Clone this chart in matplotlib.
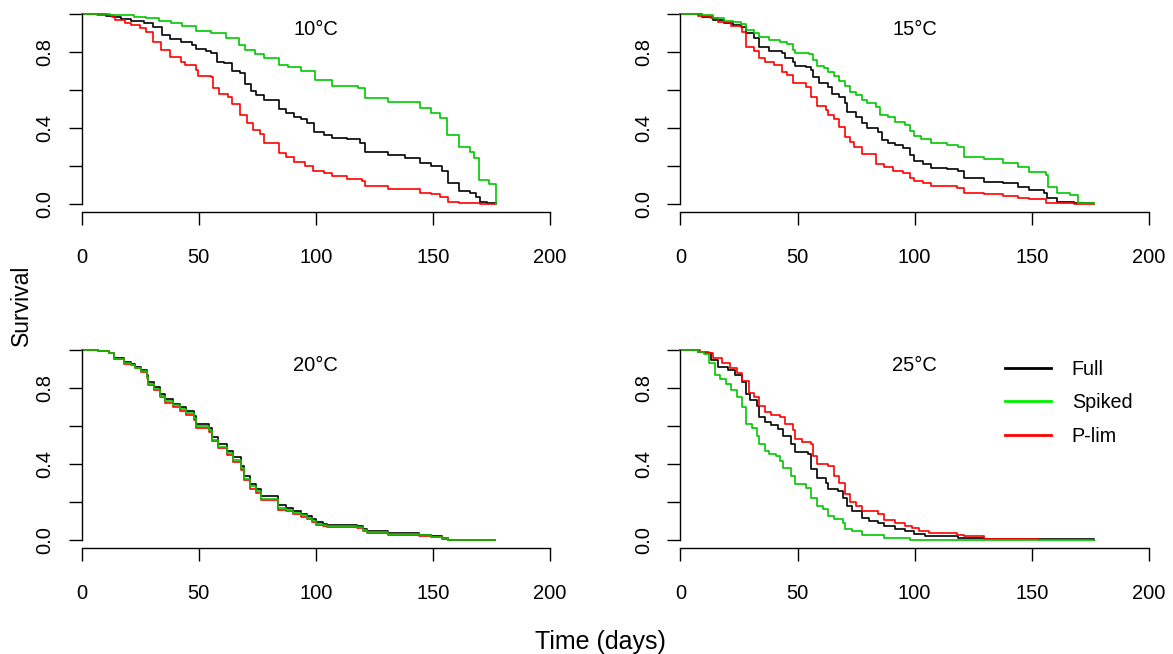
import matplotlib
matplotlib.use('Agg')
import matplotlib.pyplot as plt
from matplotlib.lines import Line2D

plt.rcParams['font.family'] = ['Liberation Sans', 'DejaVu Sans']

# ---- data (days, survival) ----
panel_titles = ['10°C', '15°C', '20°C', '25°C']
series_names = ['Full', 'Spiked', 'P-lim']

# 10°C
t10_full = [0, 10.4, 13.6, 16.8, 20.9, 26.5, 30.5, 34.5, 37.7, 42.5, 47.3, 48.9, 52.9, 55.3, 57.7, 60.9, 64.2, 67.4,
            69.8, 72.2, 74.6, 77.8, 84.2, 87.4, 90.6, 93.8, 96.2, 99.4, 103.4, 106.7, 113.1, 118.7, 121.1, 130.7,
            137.9, 144.4, 149.2, 154.0, 156.4, 161.2, 166.0, 168.4, 170.0, 173.2, 176.8]
s10_full = [1.0, 0.993, 0.984, 0.974, 0.965, 0.953, 0.935, 0.89, 0.868, 0.856, 0.839, 0.816, 0.809, 0.795, 0.75,
            0.742, 0.704, 0.69, 0.633, 0.598, 0.575, 0.549, 0.502, 0.479, 0.461, 0.449, 0.426, 0.382, 0.365, 0.351,
            0.342, 0.321, 0.277, 0.26, 0.242, 0.216, 0.204, 0.175, 0.11, 0.072, 0.058, 0.04, 0.014, 0.005, 0.005]
t10_spiked = [0, 12.0, 22.5, 27.3, 32.9, 38.0, 43.0, 48.9, 55.0, 61.8, 67.0, 69.8, 74.0, 77.8, 84.2, 88.0, 93.8,
              99.5, 106.7, 117.9, 121.1, 130.7, 144.4, 149.2, 153.2, 156.1, 160.9, 166.0, 167.3, 169.5, 173.7, 176.8]
s10_spiked = [1.0, 0.994, 0.988, 0.979, 0.965, 0.955, 0.94, 0.912, 0.90, 0.877, 0.84, 0.81, 0.79, 0.77, 0.733,
              0.72, 0.70, 0.654, 0.62, 0.61, 0.558, 0.54, 0.505, 0.48, 0.453, 0.365, 0.30, 0.277, 0.242, 0.128,
              0.105, 0.0]
t10_plim = [0, 6.4, 12.8, 14.4, 18.4, 20.9, 24.9, 27.3, 30.5, 33.7, 37.7, 42.5, 44.1, 48.9, 49.7, 55.3, 56.1, 58.5,
            62.6, 64.2, 67.4, 70.6, 73.0, 76.2, 77.8, 84.2, 87.4, 90.6, 95.4, 98.6, 103.4, 106.7, 113.1, 119.5,
            121.1, 130.7, 144.4, 149.2, 153.2, 156.4, 161.2, 170.0, 176.8]
s10_plim = [1.0, 0.995, 0.988, 0.97, 0.956, 0.944, 0.93, 0.909, 0.856, 0.812, 0.774, 0.75, 0.733, 0.707, 0.675,
            0.668, 0.61, 0.58, 0.567, 0.526, 0.47, 0.426, 0.391, 0.37, 0.325, 0.268, 0.247, 0.225, 0.204, 0.175,
            0.163, 0.151, 0.132, 0.125, 0.096, 0.079, 0.061, 0.053, 0.04, 0.014, 0.009, 0.002, 0.0]

# 15°C
t15_full = [0, 9.1, 13.8, 18.6, 22.6, 25.7, 28.1, 31.3, 33.7, 37.7, 43.2, 44.8, 48.0, 48.8, 53.5, 55.9, 56.7, 59.1,
            63.1, 64.7, 67.9, 70.2, 71.0, 75.0, 77.4, 79.8, 84.5, 86.1, 88.5, 91.7, 94.9, 98.0, 99.6, 103.6, 106.8,
            113.9, 118.7, 121.1, 129.8, 137.8, 144.1, 148.9, 155.2, 156.5, 160.8, 167.9, 176.7]
s15_full = [1.0, 0.988, 0.97, 0.956, 0.944, 0.935, 0.9, 0.874, 0.83, 0.807, 0.795, 0.768, 0.75, 0.73, 0.725, 0.707,
            0.672, 0.637, 0.619, 0.579, 0.563, 0.532, 0.484, 0.458, 0.426, 0.4, 0.382, 0.339, 0.325, 0.312, 0.295,
            0.26, 0.228, 0.211, 0.193, 0.184, 0.175, 0.137, 0.119, 0.111, 0.093, 0.075, 0.061, 0.032, 0.014, 0.005,
            0.0]
t15_spiked = [0, 9.1, 13.8, 18.6, 22.6, 25.7, 28.1, 31.3, 33.7, 37.7, 42.4, 45.6, 48.0, 48.8, 55.1, 56.7, 58.3,
              61.5, 63.1, 65.5, 67.9, 70.2, 72.6, 75.0, 77.4, 79.8, 83.7, 85.3, 88.5, 91.7, 95.7, 98.0, 99.6, 102.8,
              106.8, 113.9, 118.7, 121.1, 129.8, 137.8, 144.1, 148.9, 156.0, 156.8, 160.8, 166.4, 169.9, 176.7]
s15_spiked = [1.0, 0.995, 0.979, 0.967, 0.958, 0.949, 0.918, 0.904, 0.882, 0.865, 0.853, 0.842, 0.812, 0.798,
              0.789, 0.76, 0.73, 0.716, 0.698, 0.675, 0.649, 0.62, 0.593, 0.575, 0.549, 0.535, 0.514, 0.47, 0.458,
              0.435, 0.418, 0.388, 0.36, 0.342, 0.321, 0.312, 0.304, 0.251, 0.239, 0.216, 0.198, 0.172, 0.154,
              0.093, 0.061, 0.049, 0.009, 0.002]
t15_plim = [0, 7.5, 13.0, 16.2, 21.8, 26.5, 28.1, 31.3, 33.7, 36.1, 40.0, 43.2, 45.6, 48.0, 53.5, 55.9, 58.3, 62.3,
            63.1, 65.5, 67.9, 70.2, 72.6, 74.2, 77.4, 83.7, 86.9, 90.9, 94.9, 98.0, 99.6, 103.6, 106.8, 117.9, 121.1,
            129.8, 137.8, 144.1, 148.9, 156.0, 167.9, 176.7]
s15_plim = [1.0, 0.993, 0.979, 0.961, 0.939, 0.909, 0.83, 0.809, 0.768, 0.75, 0.733, 0.698, 0.681, 0.637, 0.619,
            0.567, 0.518, 0.496, 0.47, 0.447, 0.409, 0.356, 0.33, 0.304, 0.263, 0.211, 0.198, 0.175, 0.163, 0.14,
            0.125, 0.114, 0.096, 0.088, 0.061, 0.054, 0.044, 0.035, 0.026, 0.009, 0.0, 0.0]

# 20°C (the three curves share event times)
t20 = [0, 6.8, 11.6, 14.0, 18.0, 21.2, 22.8, 25.2, 27.7, 28.5, 30.9, 33.3, 35.7, 38.9, 42.1, 44.5, 47.8, 48.6, 54.2,
       55.8, 58.2, 62.2, 64.6, 67.9, 69.5, 71.9, 74.3, 76.7, 83.9, 87.2, 90.4, 93.6, 96.0, 98.4, 100.0, 103.2, 104.8,
       117.7, 120.1, 121.7, 130.6, 144.2, 149.1, 153.9, 156.3, 176.4]
s20_full = [1.0, 0.995, 0.984, 0.958, 0.936, 0.926, 0.913, 0.896, 0.869, 0.834, 0.807, 0.772, 0.742, 0.719, 0.701,
            0.678, 0.654, 0.613, 0.59, 0.542, 0.507, 0.472, 0.436, 0.392, 0.339, 0.295, 0.272, 0.233, 0.184, 0.171,
            0.154, 0.14, 0.127, 0.11, 0.095, 0.088, 0.081, 0.074, 0.06, 0.048, 0.037, 0.03, 0.021, 0.012, 0.004, 0.0]
s20_spiked = [1.0, 0.995, 0.984, 0.956, 0.932, 0.922, 0.908, 0.89, 0.862, 0.822, 0.797, 0.76, 0.732, 0.71, 0.69,
              0.668, 0.642, 0.6, 0.578, 0.53, 0.493, 0.458, 0.422, 0.38, 0.325, 0.285, 0.26, 0.218, 0.168, 0.159,
              0.145, 0.131, 0.12, 0.103, 0.088, 0.081, 0.075, 0.068, 0.053, 0.042, 0.032, 0.027, 0.017, 0.01, 0.002,
              0.0]
s20_plim = [1.0, 0.995, 0.984, 0.955, 0.93, 0.92, 0.905, 0.885, 0.855, 0.815, 0.79, 0.752, 0.725, 0.702, 0.682,
            0.658, 0.632, 0.592, 0.57, 0.52, 0.485, 0.45, 0.412, 0.37, 0.315, 0.272, 0.25, 0.21, 0.162, 0.152, 0.138,
            0.125, 0.114, 0.098, 0.083, 0.077, 0.071, 0.064, 0.05, 0.04, 0.03, 0.025, 0.016, 0.009, 0.002, 0.0]

# 25°C
t25_full = [0, 7.5, 10.6, 13.0, 16.2, 20.2, 23.4, 26.5, 28.1, 29.7, 32.9, 33.7, 36.1, 38.5, 41.6, 44.0, 47.2, 48.8,
            54.3, 55.9, 58.3, 62.3, 63.1, 67.1, 69.4, 71.0, 73.4, 77.4, 80.6, 84.5, 86.9, 91.7, 95.7, 99.6, 104.4,
            118.7, 129.8, 176.7]
s25_full = [1.0, 0.993, 0.984, 0.949, 0.913, 0.896, 0.869, 0.834, 0.772, 0.737, 0.707, 0.648, 0.622, 0.608, 0.587,
            0.548, 0.507, 0.466, 0.454, 0.375, 0.33, 0.304, 0.272, 0.26, 0.224, 0.18, 0.154, 0.118, 0.104, 0.092,
            0.074, 0.06, 0.048, 0.035, 0.025, 0.012, 0.005, 0.0]
t25_spiked = [0, 7.5, 9.9, 12.2, 14.6, 17.0, 19.4, 21.8, 24.2, 26.5, 28.1, 30.5, 32.9, 33.7, 36.1, 37.7, 40.8, 42.4,
              44.0, 47.2, 48.8, 53.5, 55.9, 58.3, 60.7, 63.1, 65.5, 69.4, 70.2, 73.4, 77.4, 86.9, 98.0, 176.7]
s25_spiked = [1.0, 0.993, 0.979, 0.931, 0.869, 0.848, 0.825, 0.79, 0.754, 0.701, 0.613, 0.59, 0.551, 0.507, 0.472,
              0.454, 0.442, 0.419, 0.378, 0.339, 0.295, 0.277, 0.224, 0.18, 0.163, 0.127, 0.113, 0.092, 0.06, 0.048,
              0.028, 0.011, 0.0, 0.0]
t25_plim = [0, 8.3, 12.2, 13.8, 17.8, 21.0, 24.2, 26.5, 29.3, 31.3, 33.7, 36.1, 38.5, 42.4, 44.8, 48.0, 48.8, 52.0,
            55.9, 56.7, 58.3, 63.1, 65.5, 67.9, 70.2, 72.6, 75.0, 77.4, 84.5, 86.9, 91.7, 95.7, 98.8, 102.0, 106.0,
            117.9, 121.1, 129.8, 152.9]
s25_plim = [1.0, 0.993, 0.984, 0.961, 0.931, 0.905, 0.878, 0.837, 0.777, 0.754, 0.707, 0.675, 0.661, 0.648, 0.613,
            0.578, 0.534, 0.519, 0.507, 0.445, 0.401, 0.392, 0.339, 0.304, 0.242, 0.201, 0.18, 0.154, 0.14, 0.106,
            0.092, 0.074, 0.065, 0.051, 0.039, 0.03, 0.021, 0.008, 0.0]

panels = [
    [(t10_full, s10_full), (t10_spiked, s10_spiked), (t10_plim, s10_plim)],
    [(t15_full, s15_full), (t15_spiked, s15_spiked), (t15_plim, s15_plim)],
    [(t20, s20_full), (t20, s20_spiked), (t20, s20_plim)],
    [(t25_full, s25_full), (t25_spiked, s25_spiked), (t25_plim, s25_plim)],
]

colors = ['black', '#00C800', 'red']
legend_colors = ['black', '#00F000', 'red']
draw_order = [0, 2, 1]

W, H = 1173, 654
fig = plt.figure(figsize=(W / 100, H / 100), dpi=100)

# pixel boxes: (left, top-of-1.0, width, height)
lefts = [81.7, 680.4]
tops = [14.3, 350.3]
pw, ph = 468.4, 190.0

axes = []
for i in range(4):
    l = lefts[i % 2]
    t = tops[i // 2]
    ax = fig.add_axes([l / W, 1 - (t + ph) / H, pw / W, ph / H])
    axes.append(ax)
    for j in draw_order:
        tt, ss = panels[i][j]
        ax.step(tt, ss, where='post', color=colors[j], lw=1.2, clip_on=False)
    ax.set_xlim(0, 200)
    ax.set_ylim(0, 1)
    ax.spines['top'].set_visible(False)
    ax.spines['right'].set_visible(False)
    ax.spines['left'].set_bounds(0, 1)
    ax.spines['bottom'].set_position(('outward', 5.3))
    ax.spines['bottom'].set_bounds(0, 200)
    for sp in ('left', 'bottom'):
        ax.spines[sp].set_linewidth(1.0)
    ax.set_xticks([0, 50, 100, 150, 200])
    ax.set_yticks([0, 0.2, 0.4, 0.6, 0.8, 1.0])
    ax.set_yticklabels(['0.0', '', '0.4', '', '0.8', ''], rotation=90, va='center')
    ax.tick_params(axis='x', length=9.1, width=1.0, pad=17, labelsize=14.5)
    ax.tick_params(axis='y', length=9.6, width=1.0, pad=10, labelsize=14.5)
    ax.text(100, 0.92, panel_titles[i], ha='center', va='center', fontsize=14.5)

handles = [Line2D([], [], color=c, lw=2.0) for c in legend_colors]
axes[3].legend(handles, series_names, loc='upper left', bbox_to_anchor=(1005 / W, 1 - 360 / H),
               bbox_transform=fig.transFigure, frameon=False, fontsize=14.2, handlelength=2.32,
               handletextpad=1.06, labelspacing=0.73, borderpad=0, borderaxespad=0)

fig.text(21.7 / W, 1 - 305.8 / H, 'Survival', rotation=90, ha='center', va='center', fontsize=16.5)
fig.text(600.7 / W, 1 - 641.7 / H, 'Time (days)', ha='center', va='center', fontsize=18)

fig.savefig('out.png', dpi=100)
